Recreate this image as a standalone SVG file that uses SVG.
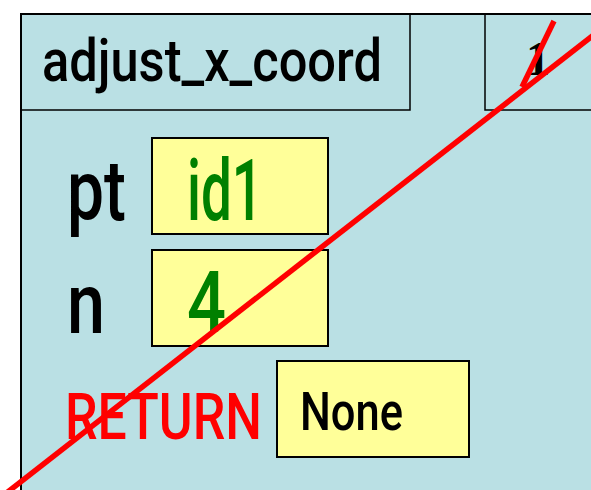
<svg xmlns="http://www.w3.org/2000/svg" width="591" height="490" viewBox="0 0 591 490">
  <style>
    .frame { fill: #BAE0E4; stroke: #000; stroke-width: 2; }
    .cell { fill: none; stroke: #000; stroke-width: 1.5; }
    .val { fill: #FFFF99; stroke: #000; stroke-width: 2; }
    .sans { font-family: Roboto, "DejaVu Sans", sans-serif; font-weight: 500; }
    .name { fill: #000; font-size: 86px; }
    .green { fill: #008000; font-size: 86px; }
    .strike { stroke: #FF0000; stroke-width: 5.5; fill: none; }
  </style>

  <!-- call frame -->
  <g id="frame">
    <rect class="frame" x="21" y="14" width="600" height="500"/>
  </g>

  <g id="title">
    <rect class="cell" x="21" y="14" width="389" height="96"/>
    <text class="sans" x="42" y="81" font-size="59" textLength="340" lengthAdjust="spacingAndGlyphs">adjust_x_coord</text>
  </g>

  <g id="frame-number">
    <rect class="cell" x="485" y="14" width="140" height="96"/>
    <text x="538" y="75" font-family="Liberation Serif, serif" font-weight="bold" font-size="48" text-anchor="middle">1</text>
  </g>

  <g id="var-pt">
    <text class="sans name" x="67" y="220" textLength="59" lengthAdjust="spacingAndGlyphs">pt</text>
    <rect class="val" x="152" y="138" width="176" height="96"/>
    <text class="sans green" x="187" y="220" textLength="76" lengthAdjust="spacingAndGlyphs">id1</text>
  </g>

  <g id="var-n">
    <text class="sans name" x="67" y="333" textLength="38" lengthAdjust="spacingAndGlyphs">n</text>
    <rect class="val" x="152" y="250" width="176" height="96"/>
    <text class="sans green" x="187" y="332" textLength="39" lengthAdjust="spacingAndGlyphs">4</text>
  </g>

  <g id="return">
    <text class="sans" x="65" y="439" fill="#FF0000" font-size="65" textLength="197" lengthAdjust="spacingAndGlyphs">RETURN</text>
    <rect class="val" x="277" y="361" width="192" height="96"/>
    <text class="sans" x="300" y="430" font-size="53" textLength="103" lengthAdjust="spacingAndGlyphs">None</text>
  </g>

  <!-- strike-through marks -->
  <g id="connectors">
    <line class="strike" x1="0" y1="498" x2="600" y2="30"/>
    <line class="strike" x1="554" y1="21" x2="522" y2="87"/>
  </g>
</svg>
